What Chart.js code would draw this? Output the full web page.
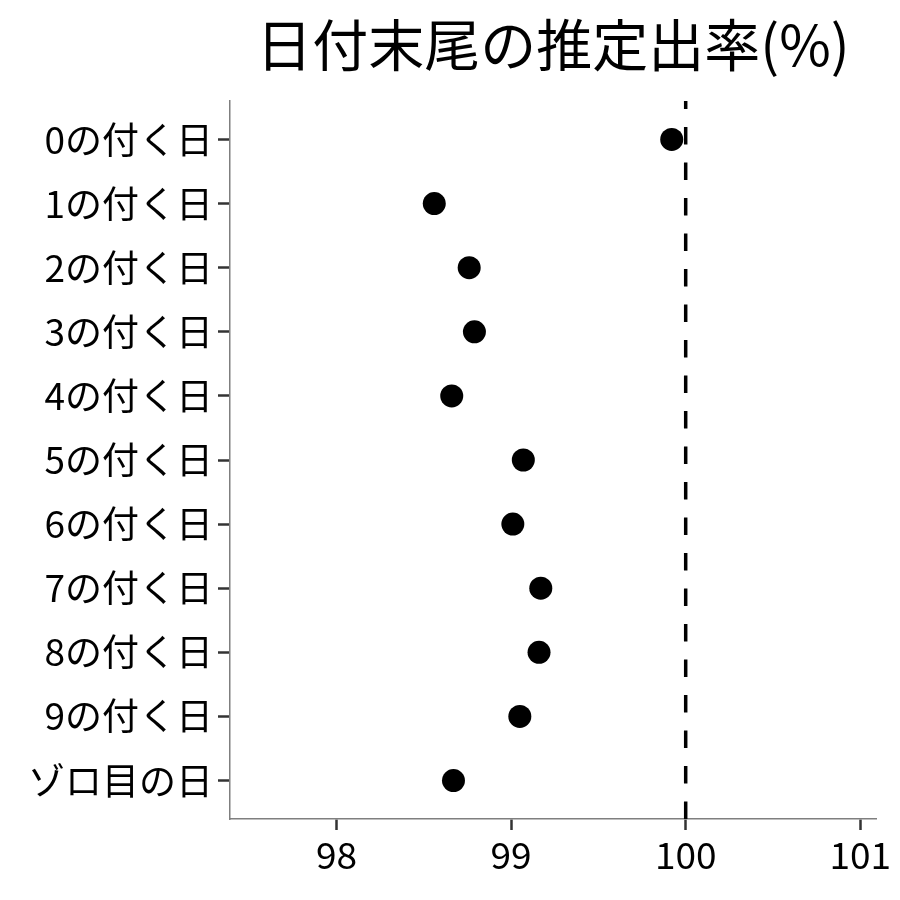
<!DOCTYPE html>
<html>
<head>
<meta charset="utf-8">
<script src="https://cdn.jsdelivr.net/npm/chart.js@4"></script>
<style>
  html, body { margin: 0; padding: 0; background: #ffffff; }
  #wrap { width: 900px; height: 900px; }
</style>
</head>
<body>
<div id="wrap"><canvas id="c" width="900" height="900"></canvas></div>
<script>
const titleText = "日付末尾の推定出率(%)";
const categories = ["0の付く日","1の付く日","2の付く日","3の付く日","4の付く日","5の付く日","6の付く日","7の付く日","8の付く日","9の付く日","ゾロ目の日"];
const rates = [99.92, 98.56, 98.76, 98.79, 98.66, 99.07, 99.01, 99.17, 99.16, 99.05, 98.67];
const xTicks = [98, 99, 100, 101];
const referenceValue = 100;
const xRange = [97.39, 101.09];
const yRange = [-0.6, 10.6];

const FONT = '"Noto Sans CJK JP", "Noto Sans CJK SC", sans-serif';

const titlePlugin = {
  id: 'centeredTitle',
  afterDraw(chart) {
    const ctx = chart.ctx;
    const a = chart.chartArea;
    ctx.save();
    ctx.font = '56px ' + FONT;
    ctx.fillStyle = '#000000';
    ctx.textAlign = 'center';
    ctx.textBaseline = 'middle';
    ctx.fillText(titleText, (a.left + a.right) / 2, 45);
    ctx.restore();
  }
};

const points = rates.map((v, i) => ({ x: v, y: i }));
const refLine = [{ x: referenceValue, y: yRange[1] }, { x: referenceValue, y: yRange[0] }];

new Chart(document.getElementById('c'), {
  type: 'scatter',
  data: {
    datasets: [
      {
        data: refLine,
        showLine: true,
        borderColor: '#000000',
        borderWidth: 3.5,
        borderDash: [17.5, 18],
        pointRadius: 0,
        pointHoverRadius: 0,
        fill: false,
        order: 2
      },
      {
        data: points,
        showLine: false,
        pointRadius: 11.5,
        pointHoverRadius: 11.5,
        pointBackgroundColor: '#000000',
        pointBorderColor: '#000000',
        pointBorderWidth: 0,
        order: 1
      }
    ]
  },
  options: {
    responsive: false,
    animation: false,
    layout: { padding: { top: 101, right: 24, left: 0, bottom: 0 } },
    plugins: {
      legend: { display: false },
      title: { display: false },
      tooltip: { enabled: false }
    },
    scales: {
      x: {
        type: 'linear',
        min: xRange[0],
        max: xRange[1],
        afterBuildTicks(scale) { scale.ticks = xTicks.map(v => ({ value: v })); },
        afterFit(scale) { scale.height = 81; },
        border: { display: true, color: '#7f7f7f', width: 1.5 },
        grid: { drawOnChartArea: false, drawTicks: true, tickLength: 11, tickWidth: 2.5, tickColor: '#333333' },
        ticks: {
          color: '#000000',
          font: { family: FONT, size: 37 },
          padding: 3,
          maxRotation: 0,
          callback: v => String(v)
        }
      },
      y: {
        type: 'linear',
        reverse: true,
        min: yRange[0],
        max: yRange[1],
        afterBuildTicks(scale) { scale.ticks = categories.map((c, i) => ({ value: i })); },
        afterFit(scale) { scale.width = 230; },
        border: { display: true, color: '#7f7f7f', width: 1.5 },
        grid: { drawOnChartArea: false, drawTicks: true, tickLength: 12, tickWidth: 2.5, tickColor: '#333333' },
        ticks: {
          color: '#000000',
          font: { family: FONT, size: 37 },
          padding: 5,
          callback: v => categories[v]
        }
      }
    }
  },
  plugins: [titlePlugin]
});
</script>
</body>
</html>
